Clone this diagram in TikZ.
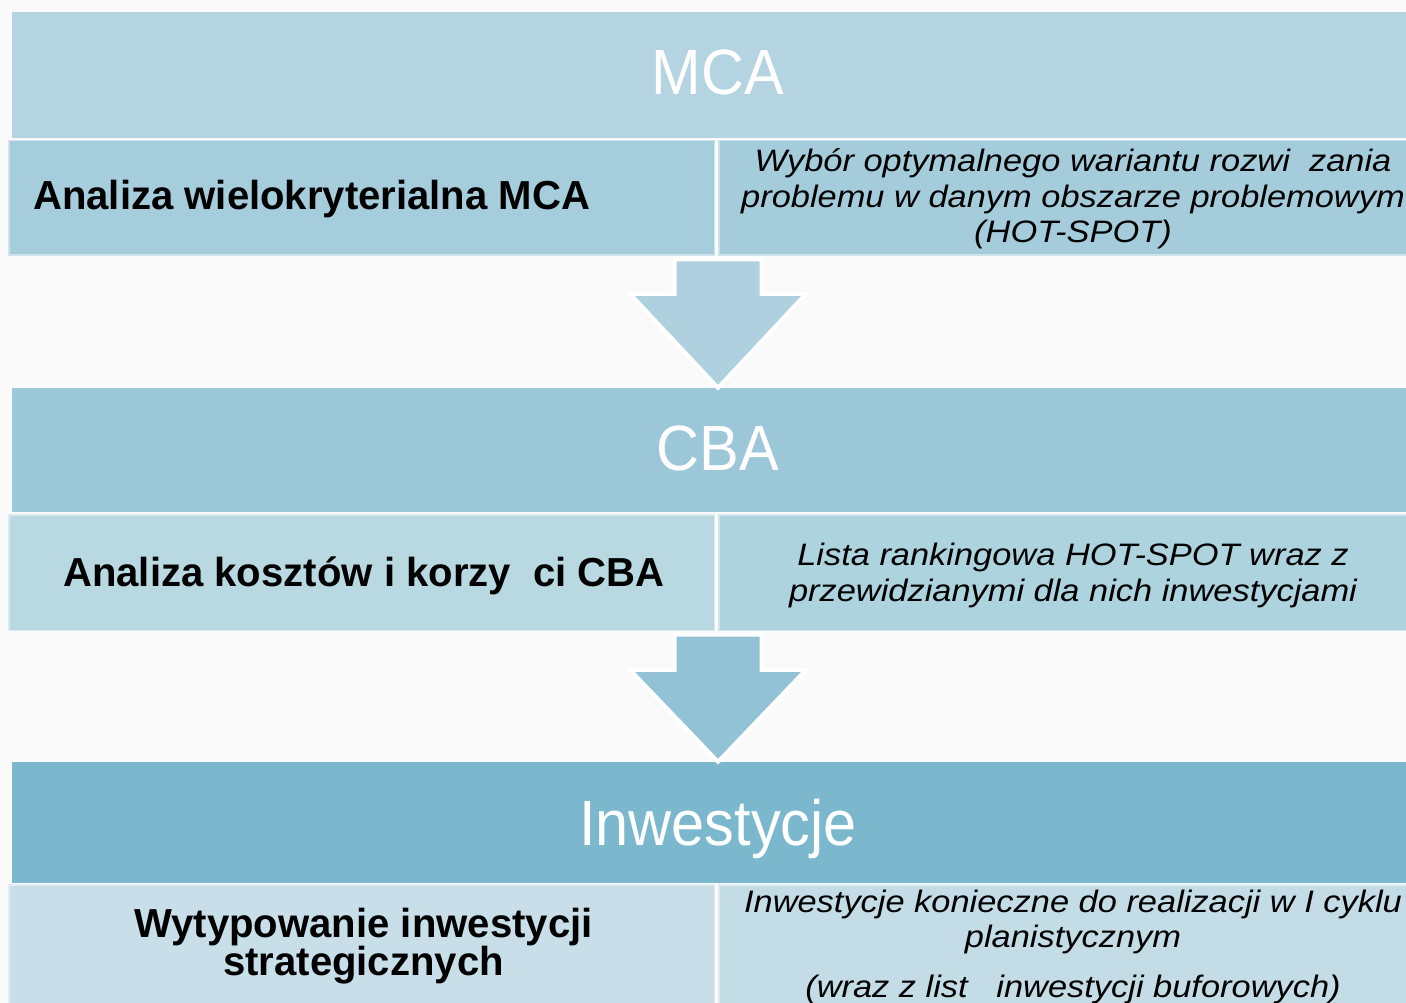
\documentclass[tikz,border=0pt]{standalone}
\usepackage{fontspec}
\setmainfont{Liberation Sans}
\newfontfamily\hdrfont[FakeStretch=0.93]{Liberation Sans}
\newfontfamily\bfnarrow[FakeStretch=0.99]{Liberation Sans}
\newfontfamily\itwide[FakeStretch=1.11]{Liberation Sans}
\usetikzlibrary{calc}
\definecolor{bgc}{HTML}{FAFAFA}
\definecolor{mcac}{HTML}{B5D4E2}
\definecolor{rowAl}{HTML}{A6CDDB}
\definecolor{rowAr}{HTML}{A4CCDB}
\definecolor{arrA}{HTML}{AED0DF}
\definecolor{cbac}{HTML}{9BC7D9}
\definecolor{rowBl}{HTML}{B8D8E2}
\definecolor{rowBr}{HTML}{ADD3DE}
\definecolor{arrB}{HTML}{92C2D6}
\definecolor{invc}{HTML}{7BB8CE}
\definecolor{rowCl}{HTML}{C8DEE8}
\definecolor{rowCr}{HTML}{C4DCE6}
\tikzset{
  band/.style={rectangle, inner sep=0, draw=none},
  rowbox/.style={rectangle, inner sep=0, draw=white, draw opacity=0.45, line width=3pt},
  hdr/.style={anchor=base, inner sep=0, text=white, font=\hdrfont\fontsize{64}{64}\selectfont},
  lbl/.style={anchor=base, inner sep=0, align=center, text=black, font=\bfnarrow\bfseries\fontsize{40.5}{38}\selectfont},
  desc/.style={anchor=base, inner sep=0, align=center, text=black, font=\itwide\itshape\fontsize{31}{35.5}\selectfont},
  blockarrow/.style={draw=white, line width=4pt, line join=miter},
}
\begin{document}
\begin{tikzpicture}[x=1pt, y=-1pt]
\clip (0,0) rectangle (1406,1003);
\fill[bgc] (0,0) rectangle (1406,1003);
% header bands
\node[band, fill=mcac, minimum width=1412pt, minimum height=126pt] (mca) at (718,75) {};
\node[band, fill=cbac, minimum width=1412pt, minimum height=124pt] (cba) at (718,450) {};
\node[band, fill=invc, minimum width=1412pt, minimum height=121pt] (inv) at (718,822.5) {};
% row boxes
\node[rowbox, fill=rowAl, minimum width=707pt, minimum height=116pt] (r1l) at (361.5,198) {};
\node[rowbox, fill=rowAr, minimum width=710pt, minimum height=116pt] (r1r) at (1073,198) {};
\node[rowbox, fill=rowBl, minimum width=707pt, minimum height=117pt] (r2l) at (361.5,572.5) {};
\node[rowbox, fill=rowBr, minimum width=710pt, minimum height=117pt] (r2r) at (1073,572.5) {};
\node[rowbox, fill=rowCl, minimum width=707pt, minimum height=126pt] (r3l) at (361.5,947) {};
\node[rowbox, fill=rowCr, minimum width=710pt, minimum height=126pt] (r3r) at (1073,947) {};
% arrows
\coordinate (s1) at (mca.south |- r1l.south);
\coordinate (t1) at (cba.north);
\draw[blockarrow, fill=arrA] ($(s1)+(-43.5,2)$) -- ($(s1)+(43.5,2)$) -- ($(t1)+(43.5,-94)$) -- ($(t1)+(88,-94)$) -- (t1) -- ($(t1)+(-88,-94)$) -- ($(t1)+(-43.5,-94)$) -- cycle;
\coordinate (s2) at (cba.south |- r2l.south);
\coordinate (t2) at (inv.north);
\draw[blockarrow, fill=arrB] ($(s2)+(-43.5,2)$) -- ($(s2)+(43.5,2)$) -- ($(t2)+(43.5,-92)$) -- ($(t2)+(88,-92)$) -- (t2) -- ($(t2)+(-88,-92)$) -- ($(t2)+(-43.5,-92)$) -- cycle;
% header texts
\node[hdr] (mcat) at (718,95) {MCA};
\node[hdr] (cbat) at (718,470) {CBA};
\node[hdr] (invt) at (718,845) {Inwestycje};
% left texts
\node[lbl, anchor=base west] (t1l) at (33,210) {Analiza wielokryterialna MCA};
\node[lbl] (t2l) at (364,586) {Analiza kosztów i korzy\ \ ci CBA};
\node[lbl] (t3l) at (363.5,975) {Wytypowanie inwestycji\\strategicznych};
% right texts (base anchor = last line's baseline)
\node[desc] (t1r) at (1073,243) {Wybór optymalnego wariantu rozwi\ \ zania\\problemu w danym obszarze problemowym\\(HOT-SPOT)};
\node[desc] (t2r) at (1073,601) {Lista rankingowa HOT-SPOT wraz z\\przewidzianymi dla nich inwestycjami};
\node[desc] (t3r) at (1073,997) {Inwestycje konieczne do realizacji w I cyklu\\planistycznym\\[14pt](wraz z list\ \ \ inwestycji buforowych)};
\end{tikzpicture}
\end{document}
